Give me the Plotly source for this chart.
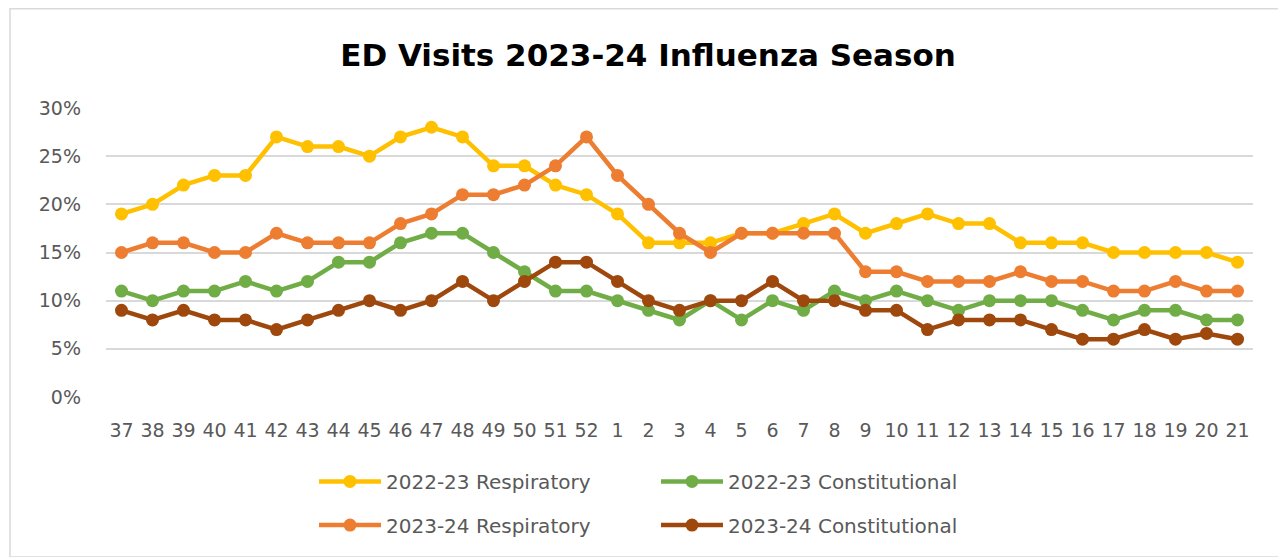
import plotly.graph_objects as go

weeks = [str(w) for w in list(range(37, 53)) + list(range(1, 22))]

resp_2223 = [19, 20, 22, 23, 23, 27, 26, 26, 25, 27, 28, 27, 24, 24, 22, 21,
             19, 16, 16, 16, 17, 17, 18, 19, 17, 18, 19, 18, 18, 16, 16, 16, 15, 15, 15, 15, 14]
const_2223 = [11, 10, 11, 11, 12, 11, 12, 14, 14, 16, 17, 17, 15, 13, 11, 11,
              10, 9, 8, 10, 8, 10, 9, 11, 10, 11, 10, 9, 10, 10, 10, 9, 8, 9, 9, 8, 8]
resp_2324 = [15, 16, 16, 15, 15, 17, 16, 16, 16, 18, 19, 21, 21, 22, 24, 27,
             23, 20, 17, 15, 17, 17, 17, 17, 13, 13, 12, 12, 12, 13, 12, 12, 11, 11, 12, 11, 11]
const_2324 = [9, 8, 9, 8, 8, 7, 8, 9, 10, 9, 10, 12, 10, 12, 14, 14,
              12, 10, 9, 10, 10, 12, 10, 10, 9, 9, 7, 8, 8, 8, 7, 6, 6, 7, 6, 6.6, 6]

series = [
    ("2022-23 Respiratory", resp_2223, "#FFC000", "legend"),
    ("2022-23 Constitutional", const_2223, "#70AD47", "legend"),
    ("2023-24 Respiratory", resp_2324, "#ED7D31", "legend2"),
    ("2023-24 Constitutional", const_2324, "#9E480E", "legend2"),
]

FONT = "DejaVu Sans"
fig = go.Figure()
for name, vals, color, leg in series:
    fig.add_trace(go.Scatter(
        x=weeks, y=[v / 100 for v in vals], name=name, mode="lines+markers",
        line=dict(color=color, width=4.5),
        marker=dict(color=color, size=13),
        legend=leg,
    ))

OFF = 8  # page body margin
W, H = 1286 - OFF, 557 - OFF
L, R, T, B = 106 - OFF, 33, 108 - OFF, 158
pw, ph = W - L - R, H - T - B

def px_x(p):
    return (p - OFF - L) / pw

def px_y(p):
    return (H - B - (p - OFF)) / ph

fig.update_layout(
    width=W, height=H,
    margin=dict(l=L, r=R, t=T, b=B),
    paper_bgcolor="white", plot_bgcolor="white",
    font=dict(family=FONT, color="#595959", size=18),
    title=dict(text="<b>ED Visits 2023-24 Influenza Season</b>",
               x=px_x(648), xref="paper", xanchor="center",
               y=1 - (55 - OFF) / H, yref="container", yanchor="middle",
               font=dict(family=FONT, size=31, color="#000000")),
    showlegend=True,
    legend=dict(orientation="h", x=px_x(314), xanchor="left",
                y=px_y(484), yanchor="middle",
                font=dict(family=FONT, size=20, color="#595959"),
                itemwidth=62, entrywidth=265, bgcolor="rgba(0,0,0,0)"),
    legend2=dict(orientation="h", x=px_x(314), xanchor="left",
                 y=px_y(528), yanchor="middle",
                 font=dict(family=FONT, size=20, color="#595959"),
                 itemwidth=62, entrywidth=265, bgcolor="rgba(0,0,0,0)"),
    xaxis=dict(type="category", range=[-0.5, 36.5], showgrid=False,
               showline=False, zeroline=False, tickangle=0,
               tickfont=dict(family=FONT, size=19, color="#595959"),
               ticklabelstandoff=20),
    yaxis=dict(range=[0, 0.30], dtick=0.05, tickformat=".0%",
               showgrid=True, gridcolor="#D9D9D9", gridwidth=2,
               zeroline=False, showline=False,
               tickfont=dict(family=FONT, size=19, color="#595959"),
               ticklabelstandoff=24),
    shapes=[dict(type="rect", xref="paper", yref="paper",
                 x0=px_x(10), x1=px_x(1283), y0=px_y(560), y1=px_y(8),
                 line=dict(color="#D9D9D9", width=1.5), layer="below")],
)

fig.write_html("out.html")
